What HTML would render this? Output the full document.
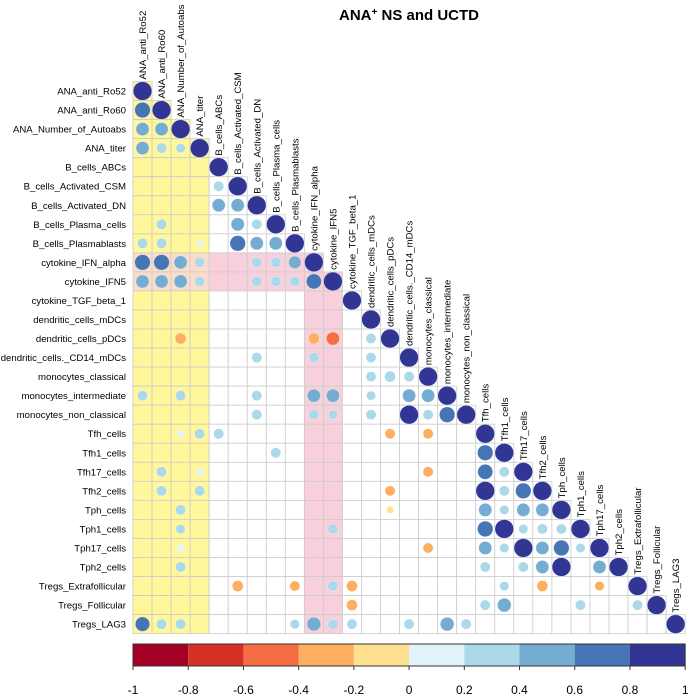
<!DOCTYPE html>
<html><head><meta charset="utf-8"><style>
body{margin:0;background:#fff;}
svg{display:block;font-family:"Liberation Sans",Arial,sans-serif;}
</style></head><body>
<svg id="chart" width="689" height="698"></svg>
<script>
const variables=["ANA_anti_Ro52","ANA_anti_Ro60","ANA_Number_of_Autoabs","ANA_titer","B_cells_ABCs","B_cells_Activated_CSM","B_cells_Activated_DN","B_cells_Plasma_cells","B_cells_Plasmablasts","cytokine_IFN_alpha","cytokine_IFN5","cytokine_TGF_beta_1","dendritic_cells_mDCs","dendritic_cells_pDCs","dendritic_cells._CD14_mDCs","monocytes_classical","monocytes_intermediate","monocytes_non_classical","Tfh_cells","Tfh1_cells","Tfh17_cells","Tfh2_cells","Tph_cells","Tph1_cells","Tph17_cells","Tph2_cells","Tregs_Extrafollicular","Tregs_Follicular","Tregs_LAG3"];
const corrRows=[
1,
2,2,
3,3,3,
5,
6,6,
7,7,7,
8,8,8,8,8,8,
9,9,9,9,9,9,9,
10,10,10,10,10,10,10,10,
13,13,13,13,
14,14,14,
15,15,15,
16,16,16,16,16,16,16,16,
17,17,17,17,17,17,17,
18,18,18,18,18,
19,19,
20,20,20,20,20,
21,21,21,21,21,21,
22,22,22,22,22,22,
23,23,23,23,23,23,23,
24,24,24,24,24,24,24,24,
25,25,25,25,25,25,
26,26,26,26,26,26,26,
27,27,27,27,27,
28,28,28,28,28,28,28,28,28,28];
const corrCols=[
0,
0,1,
0,1,2,
4,
4,5,
1,5,6,
0,1,3,5,6,7,
0,1,2,3,6,7,8,
0,1,2,3,6,7,8,9,
2,9,10,12,
6,9,12,
12,13,14,
0,2,6,9,10,12,14,15,
6,9,10,12,14,15,16,
2,3,4,13,15,
7,18,
1,3,15,18,19,
1,3,13,18,19,20,
2,13,18,19,20,21,
2,10,18,19,20,21,22,
2,15,18,19,20,21,22,23,
2,18,20,21,22,24,
5,8,10,11,19,21,24,
11,18,19,23,26,
0,1,2,8,9,10,11,14,16,17];
const corrVals=[
0.7,
0.5,0.5,
0.5,0.3,0.25,
0.3,
0.5,0.5,
0.3,0.5,0.3,
0.3,0.3,0.12,0.7,0.5,0.5,
0.7,0.7,0.5,0.3,0.3,0.3,0.45,
0.5,0.5,0.5,0.3,0.3,0.3,0.3,0.65,
-0.35,-0.35,-0.5,0.3,
0.3,0.3,0.3,
0.3,0.35,0.3,
0.3,0.3,0.3,0.5,0.5,0.25,0.5,0.5,
0.3,0.3,0.25,0.3,1.0,0.3,0.7,
0.15,0.3,0.3,-0.3,-0.3,
0.3,0.7,
0.3,0.15,-0.3,0.65,0.3,
0.3,0.3,-0.3,1.0,0.3,0.7,
0.3,-0.15,0.5,0.25,0.5,0.5,
0.25,0.3,0.7,1.0,0.25,0.3,0.3,
0.15,-0.3,0.5,0.25,1.0,0.5,0.7,0.25,
0.3,0.3,0.3,0.5,1.0,0.5,
-0.35,-0.3,0.3,-0.35,0.25,-0.35,-0.25,
-0.35,0.3,0.55,0.3,0.3,
0.6,0.3,0.3,0.25,0.55,0.3,0.3,0.3,0.55,0.3];
const binColors=["#a50026","#d73027","#f46d43","#fdae61","#fee090","#e0f3f8","#abd9e9","#74add1","#4575b4","#313695"];
const tickLabels=["-1","-0.8","-0.6","-0.4","-0.2","0","0.2","0.4","0.6","0.8","1"];
const tickValues=[-1,-0.8,-0.6,-0.4,-0.2,0,0.2,0.4,0.6,0.8,1];

const NS="http://www.w3.org/2000/svg";
const svg=document.getElementById('chart');
const X0=133,Y0=81.5,CS=19.04,N=variables.length;
const cx=j=>X0+j*CS, cy=i=>Y0+i*CS;
const vx=v=>X0+(v+1)/2*(N*CS);
function mk(t,a){const e=document.createElementNS(NS,t);for(const k in a)e.setAttribute(k,a[k]);svg.appendChild(e);return e;}
function col(v){let b=Math.floor((v+1)/0.2);if(b>9)b=9;if(b<0)b=0;return binColors[b];}

const title=mk('text',{x:409,y:20,'text-anchor':'middle','font-size':15,'font-weight':'bold'});


title.innerHTML='ANA<tspan font-size="10" dy="-5">+</tspan><tspan dy="5"> NS and UCTD</tspan>';

for(let i=0;i<N;i++){for(let j=0;j<=i;j++){
  const yel=j<=3, pk=(i===9||i===10)&&j<=10, pc=(j===9||j===10);
  let f='#ffffff';
  if(yel&&pk)f='#fadcc8';else if(yel)f='#fff799';else if(pk||pc)f='#f7d0dc';
  const r=mk('rect',{x:cx(j),y:cy(i),width:CS,height:CS,fill:f,stroke:'#cccccc','stroke-width':0.8});
  
  
}}
variables.forEach((v,i)=>{
  const t=mk('text',{x:126,y:cy(i)+CS/2+3.5,'text-anchor':'end','font-size':9.6,fill:'#000'});
  t.textContent=v;
  
  
  const c=mk('text',{x:0,y:0,'font-size':9.6,fill:'#000',transform:`translate(${cx(i)+CS/2+3.5},${cy(i)-2}) rotate(-90)`});
  c.textContent=v;
  
  
});
function circ(i,j,v){
  const r=Math.sqrt(Math.abs(v))*CS*0.49;
  const c=mk('circle',{cx:cx(j)+CS/2,cy:cy(i)+CS/2,r:r,fill:col(v),stroke:'#ffffff','stroke-width':0.3});
  
  
}
for(let i=0;i<N;i++)circ(i,i,1);
corrVals.forEach((v,k)=>circ(corrRows[k],corrCols[k],v));
const CBY=644,CBH=22;
binColors.forEach((c,k)=>{
  const r=mk('rect',{x:vx(tickValues[k]),y:CBY,width:vx(tickValues[k+1])-vx(tickValues[k]),height:CBH,fill:c});
  
  
});
const bd=mk('rect',{x:X0,y:CBY,width:N*CS,height:CBH,fill:'none',stroke:'#333',"stroke-width":1});


tickValues.forEach((v,k)=>{
  const l=mk('line',{x1:vx(v),x2:vx(v),y1:CBY+CBH,y2:CBY+CBH+4,stroke:'#333'});
  
  
  const t=mk('text',{x:vx(v),y:694,'text-anchor':'middle','font-size':12});
  t.textContent=tickLabels[k];
  
  
});
</script>
</body></html>
